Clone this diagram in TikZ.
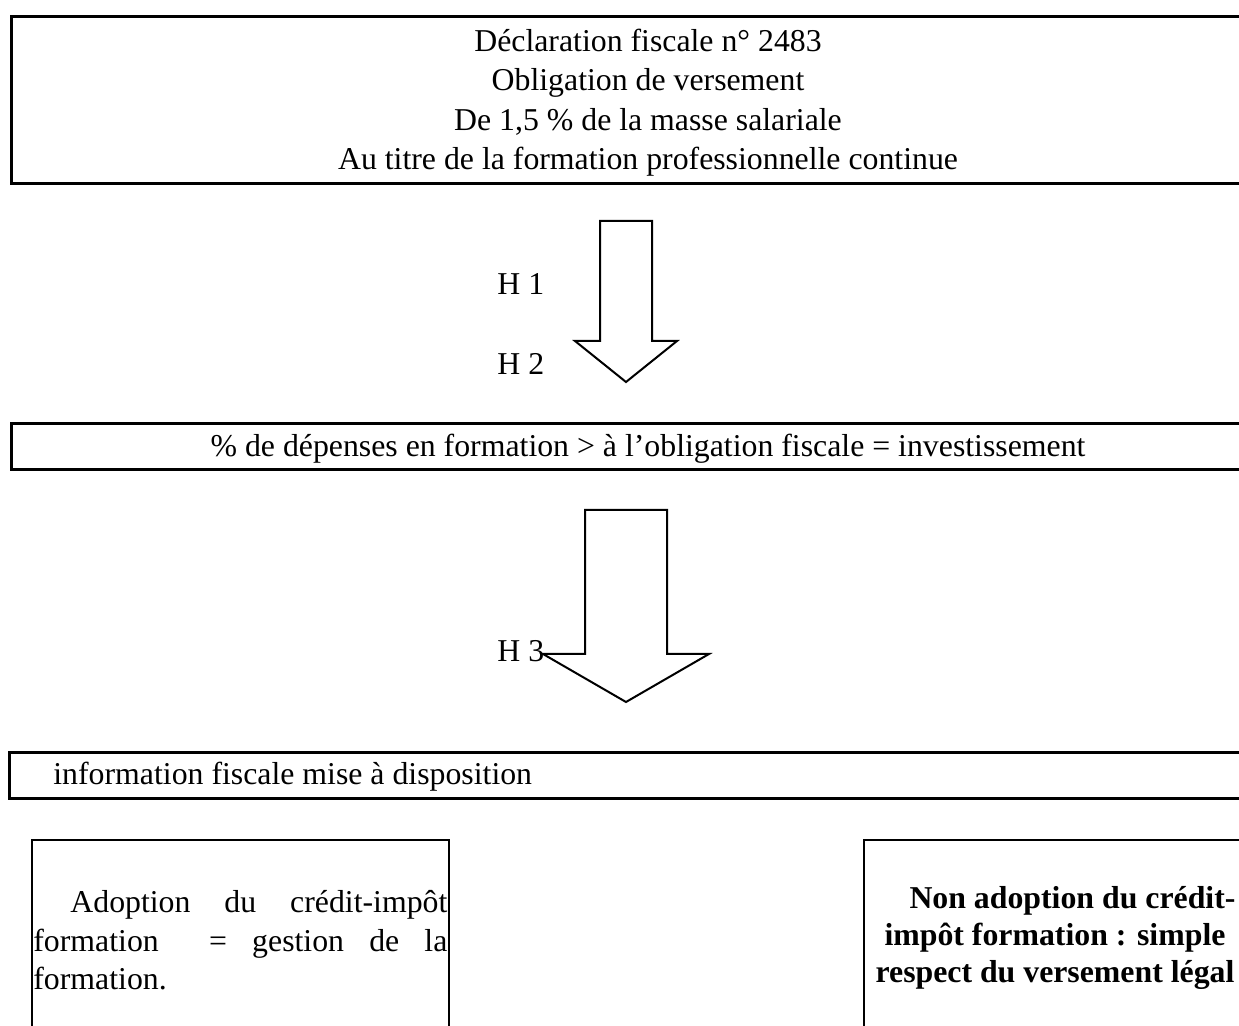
\documentclass[tikz,border=0pt]{standalone}
\usepackage{fontspec}
\setmainfont{Liberation Serif}
\usetikzlibrary{positioning}

\tikzset{
  fiscbox/.style={draw, line width=1.5pt, inner sep=0pt},
  thinbox/.style={draw, line width=0.8pt, inner sep=0pt},
  blockarrow/.style={draw, line width=1pt, line join=miter},
  txt/.style={inner sep=0pt, font=\fontsize{15.9pt}{19.75pt}\selectfont},
  bodytxt/.style={inner sep=0pt, font=\fontsize{15.9pt}{19.25pt}\selectfont},
  boldtxt/.style={inner sep=0pt, font=\fontsize{15.9pt}{18.5pt}\selectfont\bfseries}
}

\begin{document}
\begin{tikzpicture}[x=0.5pt,y=-0.5pt]
\clip (0,0) rectangle (1239,1026);

% boxes (right side runs off the page)
\node[fiscbox, minimum width=638pt, minimum height=83.5pt, anchor=north west] (decl) at (10,15) {};
\node[fiscbox, minimum width=638pt, minimum height=23pt, anchor=north west] (depense) at (10,422) {};
\node[fiscbox, minimum width=639pt, minimum height=23pt, anchor=north west] (info) at (8,751) {};
\node[thinbox, minimum width=208.5pt, minimum height=110pt, anchor=north west] (adopt) at (31,839) {};
\node[thinbox, minimum width=250pt, minimum height=110pt, anchor=north west] (nonadopt) at (863,839) {};

% texts (base of centred blocks = last line)
\node[txt, align=center, anchor=base] (decltxt) at (648,170)
  {Déclaration fiscale n° 2483\\Obligation de versement\\De 1,5 \% de la masse salariale\\Au titre de la formation professionnelle continue};
\node[txt, anchor=base] (depensetxt) at (648,457)
  {\% de dépenses en formation > à l’obligation fiscale = investissement};
\node[txt, anchor=base west] (infotxt) at (53,785) {information fiscale mise à disposition};
\node[bodytxt, text width=207pt, align=left, anchor=base west] (adopttxt) at (33,913)
  {\hspace*{18.5pt}Adoption\hfill du\hfill crédit-impôt\\
   formation\hfill\hfill =\hfill gestion\hfill de\hfill la\\
   formation.};
\node[boldtxt, align=center, anchor=base] (nonadopttxt) at (1055,983)
  {\hspace*{17.5pt}Non adoption du crédit-\\impôt formation : simple\hspace*{4pt}\\respect du versement légal};

% block arrows
\coordinate (a1) at (626,221);
\draw[blockarrow] (a1) ++(-26,0) -- ++(52,0) -- ++(0,120) -- ++(25,0)
  -- ++(-51,41) -- ++(-51,-41) -- ++(25,0) -- cycle;
\coordinate (a2) at (626,510);
\draw[blockarrow] (a2) ++(-41,0) -- ++(82,0) -- ++(0,144) -- ++(42,0)
  -- ++(-83,48) -- ++(-83,-48) -- ++(42,0) -- cycle;

% hypotheses
\node[txt, anchor=base west] (h1) at (497,295) {H 1};
\node[txt, anchor=base west] (h2) at (497,375) {H 2};
\node[txt, anchor=base west] (h3) at (497,662) {H 3};
\end{tikzpicture}
\end{document}
